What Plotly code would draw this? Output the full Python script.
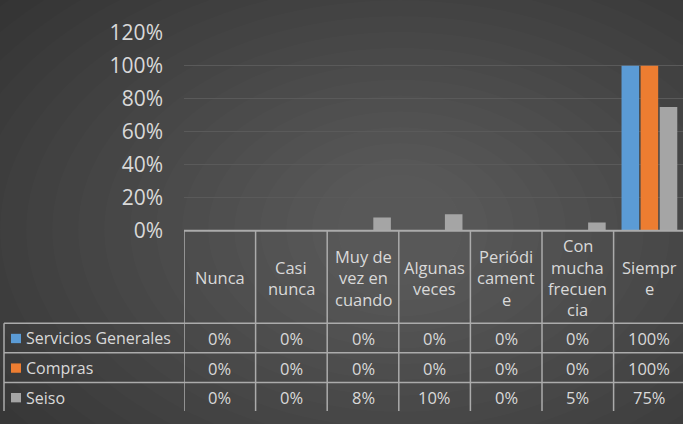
import plotly.graph_objects as go

# ---- data ----
categories = ["Nunca", "Casi nunca", "Muy de vez en cuando", "Algunas veces",
              "Periódicamente", "Con mucha frecuencia", "Siempre"]
header_labels = ["Nunca", "Casi\nnunca", "Muy de\nvez en\ncuando", "Algunas\nveces",
                 "Periódi\ncament\ne", "Con\nmucha\nfrecuen\ncia", "Siempr\ne"]
series_names = ["Servicios Generales", "Compras", "Seiso"]
servicios_generales = [0.00, 0.00, 0.00, 0.00, 0.00, 0.00, 1.00]
compras = [0.00, 0.00, 0.00, 0.00, 0.00, 0.00, 1.00]
seiso = [0.00, 0.00, 0.08, 0.10, 0.00, 0.05, 0.75]
y_ticks = [0, 0.2, 0.4, 0.6, 0.8, 1.0, 1.2]
y_tick_labels = ["0%", "20%", "40%", "60%", "80%", "100%", "120%"]

series_values = [servicios_generales, compras, seiso]
colors = ["#5B9BD5", "#ED7D31", "#A5A5A5"]

W, H = 683, 424
FONT = "Open Sans"
TXT = "#D9D9D9"
LINE = "#ABABAB"
TSIZE = 16.5

def px(x):
    return x / W

def py(y):
    return 1 - y / H

fig = go.Figure()
for name, vals, c in zip(series_names, series_values, colors):
    fig.add_trace(go.Bar(x=list(range(len(categories))), y=vals, name=name,
                         marker=dict(color=c, line=dict(width=0)),
                         hovertext=categories))

shapes = []
# radial-ish background glow
cx, cy = 400, 230
N = 24
for i in range(N):
    rx = 660 - i * 26
    ry = 450 - i * 17
    shapes.append(dict(type="circle", xref="paper", yref="paper", layer="below",
                       x0=px(cx - rx), x1=px(cx + rx), y0=py(cy + ry), y1=py(cy - ry),
                       fillcolor="rgba(255,255,255,0.01)", line=dict(width=0)))

# table geometry
x_left_plot = 184
table_top = 231
header_bottom = 330
row_h = 31.7
table_left = 4
n = len(categories)

# horizontal lines
shapes.append(dict(type="line", xref="paper", yref="paper", x0=px(x_left_plot), x1=1,
                   y0=py(table_top), y1=py(table_top), line=dict(color=LINE, width=1.8)))
for r in range(len(series_names)):
    yy = header_bottom + r * row_h
    shapes.append(dict(type="line", xref="paper", yref="paper", x0=px(table_left), x1=1,
                       y0=py(yy), y1=py(yy), line=dict(color=LINE, width=1.5)))
# vertical lines at category boundaries (data coords)
for i in range(n + 1):
    shapes.append(dict(type="line", xref="x", yref="paper", x0=i - 0.5, x1=i - 0.5,
                       y0=py(table_top), y1=0, line=dict(color=LINE, width=1.5)))
shapes.append(dict(type="line", xref="paper", yref="paper", x0=px(table_left), x1=px(table_left),
                   y0=py(header_bottom), y1=0, line=dict(color=LINE, width=1.5)))

annotations = []
# header labels
line_sp = 22.8
for i, lab in enumerate(header_labels):
    lines = lab.split("\n")
    center = (table_top + header_bottom) / 2 + 1
    for k, ln in enumerate(lines):
        yy = center + (k - (len(lines) - 1) / 2) * line_sp
        annotations.append(dict(x=i, xref="x", y=py(yy), yref="paper", text=ln,
                                showarrow=False, xanchor="center", yanchor="middle",
                                font=dict(family=FONT, size=TSIZE, color=TXT)))
# data rows
for r, (name, vals, c) in enumerate(zip(series_names, series_values, colors)):
    yc = header_bottom + r * row_h + row_h / 2 + 0.5
    shapes.append(dict(type="rect", xref="paper", yref="paper", x0=px(11), x1=px(21),
                       y0=py(yc + 5), y1=py(yc - 5), fillcolor=c, line=dict(width=0)))
    annotations.append(dict(x=px(24), xref="paper", y=py(yc), yref="paper", text=name,
                            showarrow=False, xanchor="left", yanchor="middle",
                            font=dict(family=FONT, size=16, color=TXT)))
    for i, v in enumerate(vals):
        annotations.append(dict(x=i, xref="x", y=py(yc), yref="paper",
                                text=f"{round(v * 100)}%", showarrow=False,
                                xanchor="center", yanchor="middle",
                                font=dict(family=FONT, size=TSIZE, color=TXT)))

fig.update_layout(
    width=W, height=H,
    margin=dict(l=0, r=0, t=0, b=0),
    paper_bgcolor="#292929",
    plot_bgcolor="rgba(0,0,0,0)",
    barmode="group", bargap=0.2, bargroupgap=0.08,
    showlegend=False,
    shapes=shapes, annotations=annotations,
    xaxis=dict(domain=[px(x_left_plot), 1], range=[-0.5, -0.5 + (W - x_left_plot) / 71.6],
               showticklabels=False, showgrid=False, zeroline=False, ticks=""),
    yaxis=dict(domain=[py(table_top), py(19)], range=[0, 1.2],
               tickvals=y_ticks, ticktext=y_tick_labels,
               tickfont=dict(family=FONT, size=21, color=TXT),
               showgrid=True, gridcolor="#5A5A5A", gridwidth=1,
               zeroline=False, ticks="", ticklabelstandoff=20),
)

fig.write_html("out.html", config={"displayModeBar": False},
               post_script="document.body.style.margin='0';document.body.style.overflow='hidden';")
